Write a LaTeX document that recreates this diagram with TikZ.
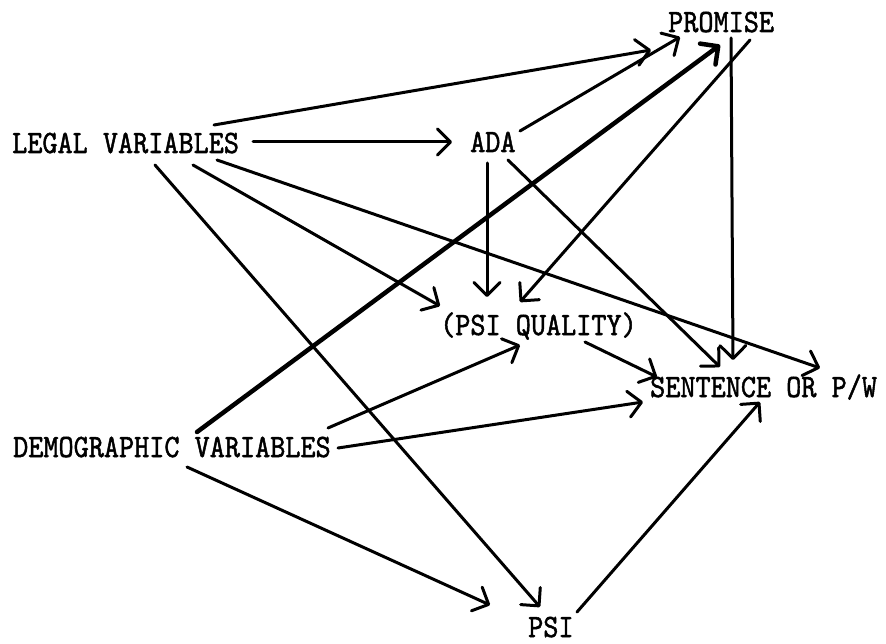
\documentclass[tikz,border=0pt]{standalone}
\usepackage{fontspec}
\newfontfamily\twfont{lmmono10-regular}[Extension=.otf, FakeBold=1.6]
\usetikzlibrary{arrows.meta,calc}
\newcommand{\lbltxt}[1]{\scalebox{1}[1.13]{#1}}
\tikzset{
  lbl/.style={inner sep=0pt, anchor=base west, font=\fontsize{28.8}{30}\selectfont\twfont},
  arr/.style={line width=3pt, line cap=round, -{Straight Barb[length=13pt,width=26pt,line cap=round,line join=round]}},
  thickarr/.style={arr, line width=4.5pt}
}
\begin{document}
\begin{tikzpicture}[x=1pt,y=-1pt]
\useasboundingbox (0,0) rectangle (886,644);
\node[lbl] (promise) at (668,32) {\lbltxt{PROMISE}};
\node[lbl] (legal) at (12,153) {\lbltxt{LEGAL VARIABLES}};
\node[lbl] (ada) at (470,152) {\lbltxt{ADA}};
\node[lbl] (psiq) at (440,335) {\lbltxt{(PSI QUALITY)}};
\node[lbl] (sent) at (650,397) {\lbltxt{SENTENCE OR P/W}};
\node[lbl] (demog) at (13,457) {\lbltxt{DEMOGRAPHIC VARIABLES}};
\node[lbl] (psi) at (528,637) {\lbltxt{PSI}};
% from LEGAL VARIABLES
\draw[arr] ($(legal.base west)+(202,-28)$) -- ($(promise.base west)+(-17,18)$);
\draw[arr] ($(legal.base west)+(241,-11)$) -- ($(ada.base west)+(-18,-10)$);
\draw[arr] ($(legal.base west)+(181,12)$) -- ($(psiq.base west)+(0,-29)$);
\draw[arr] ($(legal.base west)+(205,7)$) -- ($(sent.base west)+(170,-29)$);
\draw[arr] ($(legal.base west)+(143,12)$) -- ($(psi.base west)+(12,-30)$);
% from ADA
\draw[arr] ($(ada.base west)+(50,-21)$) -- ($(promise.base west)+(12,5)$);
\draw[arr] ($(ada.base west)+(17,11)$) -- ($(psiq.base west)+(47,-38)$);
\draw[arr] ($(ada.base west)+(38,8)$) -- ($(sent.base west)+(70,-30)$);
% from PROMISE
\draw[arr] ($(promise.base west)+(82,8)$) -- ($(psiq.base west)+(80,-33)$);
\draw[arr] ($(promise.base west)+(63,6)$) -- ($(sent.base west)+(83,-37)$);
% from DEMOGRAPHIC VARIABLES
\draw[thickarr] ($(demog.base west)+(184,-25)$) -- ($(promise.base west)+(52,13)$);
\draw[arr] ($(demog.base west)+(315,-29)$) -- ($(psiq.base west)+(80,10)$);
\draw[arr] ($(demog.base west)+(325,-9)$) -- ($(sent.base west)+(-7,5)$);
\draw[arr] ($(demog.base west)+(174,10)$) -- ($(psi.base west)+(-38,-32)$);
% others
\draw[arr] ($(psiq.base west)+(145,7)$) -- ($(sent.base west)+(7,-20)$);
\draw[arr] ($(psi.base west)+(49,-25)$) -- ($(sent.base west)+(110,5)$);
\end{tikzpicture}
\end{document}
